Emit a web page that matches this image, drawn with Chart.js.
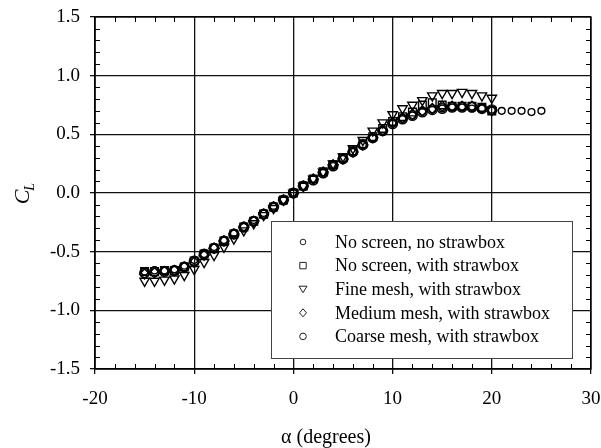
<!DOCTYPE html>
<html>
<head>
<meta charset="utf-8">
<script src="https://cdn.jsdelivr.net/npm/chart.js@4.4.1/dist/chart.umd.min.js"></script>
<style>
  html, body { margin: 0; padding: 0; background: #fff; }
  #wrap { width: 601px; height: 448px; }
</style>
</head>
<body>
<div id="wrap"><canvas id="liftChart" width="601" height="448"></canvas></div>
<script>
// angle of attack, degrees
var alpha = [-15, -14, -13, -12, -11, -10, -9, -8, -7, -6, -5, -4, -3, -2, -1, 0,
  1, 2, 3, 4, 5, 6, 7, 8, 9, 10, 11, 12, 13, 14, 15, 16, 17, 18, 19, 20];
var alphaLong = [-15, -14, -13, -12, -11, -10, -9, -8, -7, -6, -5, -4, -3, -2, -1, 0,
  1, 2, 3, 4, 5, 6, 7, 8, 9, 10, 11, 12, 13, 14, 15, 16, 17, 18, 19, 20,
  21, 22, 23, 24, 25];

// lift coefficient per configuration
var clNoScreenNoBox = [-0.67, -0.66, -0.66, -0.65, -0.62, -0.57, -0.52, -0.46, -0.40, -0.34, -0.29, -0.23, -0.17, -0.11, -0.06, 0.00,
  0.06, 0.12, 0.17, 0.23, 0.29, 0.35, 0.41, 0.47, 0.53, 0.59, 0.63, 0.66, 0.69, 0.71, 0.72, 0.73, 0.73, 0.72, 0.72, 0.71,
  0.70, 0.70, 0.70, 0.69, 0.70];
var clNoScreenBox = [-0.67, -0.67, -0.66, -0.66, -0.63, -0.58, -0.52, -0.47, -0.41, -0.35, -0.29, -0.24, -0.18, -0.12, -0.06, 0.00,
  0.06, 0.12, 0.18, 0.24, 0.30, 0.36, 0.42, 0.48, 0.55, 0.61, 0.65, 0.69, 0.75, 0.77, 0.75, 0.74, 0.74, 0.74, 0.73, 0.70];
var clFineMesh = [-0.75, -0.75, -0.74, -0.73, -0.70, -0.65, -0.59, -0.53, -0.46, -0.39, -0.32, -0.26, -0.19, -0.13, -0.06, 0.00,
  0.06, 0.12, 0.18, 0.25, 0.31, 0.38, 0.45, 0.53, 0.60, 0.67, 0.72, 0.75, 0.79, 0.83, 0.85, 0.85, 0.86, 0.85, 0.83, 0.81];
var clMediumMesh = [-0.69, -0.68, -0.67, -0.66, -0.63, -0.59, -0.53, -0.47, -0.41, -0.35, -0.29, -0.24, -0.18, -0.12, -0.06, 0.00,
  0.06, 0.12, 0.18, 0.24, 0.29, 0.35, 0.41, 0.47, 0.53, 0.60, 0.64, 0.67, 0.70, 0.72, 0.74, 0.74, 0.74, 0.74, 0.72, 0.70];
var clCoarseMesh = [-0.68, -0.67, -0.67, -0.66, -0.63, -0.58, -0.52, -0.47, -0.41, -0.35, -0.29, -0.24, -0.18, -0.12, -0.06, 0.00,
  0.06, 0.11, 0.17, 0.23, 0.29, 0.35, 0.41, 0.47, 0.53, 0.59, 0.63, 0.66, 0.69, 0.71, 0.72, 0.73, 0.73, 0.73, 0.72, 0.71];

var seriesLabels = [
  "No screen, no strawbox",
  "No screen, with strawbox",
  "Fine mesh, with strawbox",
  "Medium mesh, with strawbox",
  "Coarse mesh, with strawbox"
];

var xTicks = [-20, -10, 0, 10, 20, 30];
var yTicks = [-1.5, -1.0, -0.5, 0.0, 0.5, 1.0, 1.5];
var xMinorStep = 2;
var yMinorStep = 0.1;

var SERIF = "'Liberation Serif', 'DejaVu Serif', serif";

function toPoints(xs, ys) {
  return ys.map(function (y, i) { return { x: xs[i], y: y }; });
}

// small hollow markers for the legend, drawn by hand
function legendMarker(ctx, kind, x, y) {
  ctx.beginPath();
  if (kind === "smallCircle") {
    ctx.arc(x, y, 2.8, 0, Math.PI * 2);
  } else if (kind === "square") {
    ctx.rect(x - 3.2, y - 3.2, 6.4, 6.4);
  } else if (kind === "triDown") {
    ctx.moveTo(x - 4, y - 3);
    ctx.lineTo(x + 4, y - 3);
    ctx.lineTo(x, y + 3.5);
    ctx.closePath();
  } else if (kind === "diamond") {
    ctx.moveTo(x, y - 4);
    ctx.lineTo(x + 3.5, y);
    ctx.lineTo(x, y + 4);
    ctx.lineTo(x - 3.5, y);
    ctx.closePath();
  } else {
    ctx.arc(x, y, 3.3, 0, Math.PI * 2);
  }
  ctx.stroke();
}

var markerKinds = ["smallCircle", "square", "triDown", "diamond", "circle"];

var framePlugin = {
  id: "frame",
  afterDatasetsDraw: function (chart) {
    var ctx = chart.ctx;
    var area = chart.chartArea;
    var xs = chart.scales.x;
    var ys = chart.scales.y;
    ctx.save();
    ctx.strokeStyle = "#000";
    ctx.lineWidth = 1.3;
    ctx.strokeRect(area.left, area.top, area.right - area.left, area.bottom - area.top);

    // minor ticks, pointing inwards on all four sides
    ctx.lineWidth = 1;
    ctx.beginPath();
    var v, p;
    for (v = xs.min; v <= xs.max + 1e-9; v += xMinorStep) {
      if (Math.abs(v % 10) < 1e-9) continue;
      p = Math.round(xs.getPixelForValue(v)) + 0.5;
      ctx.moveTo(p, area.bottom); ctx.lineTo(p, area.bottom - 5);
      ctx.moveTo(p, area.top); ctx.lineTo(p, area.top + 5);
    }
    for (v = ys.min; v <= ys.max + 1e-9; v += yMinorStep) {
      var r = Math.round(v * 10);
      if (r % 5 === 0) continue;
      p = Math.round(ys.getPixelForValue(r / 10)) + 0.5;
      ctx.moveTo(area.left, p); ctx.lineTo(area.left + 5, p);
      ctx.moveTo(area.right, p); ctx.lineTo(area.right - 5, p);
    }
    ctx.stroke();

    // legend box inside the plot
    var bx = 271, by = 221, bw = 301, bh = 137;
    ctx.fillStyle = "#fff";
    ctx.fillRect(bx, by, bw, bh);
    ctx.strokeStyle = "#444";
    ctx.lineWidth = 1;
    ctx.strokeRect(bx + 0.5, by + 0.5, bw, bh);
    ctx.font = "18px " + SERIF;
    ctx.textBaseline = "middle";
    ctx.textAlign = "left";
    ctx.fillStyle = "#000";
    seriesLabels.forEach(function (label, i) {
      var ly = by + 21 + i * 23.6;
      ctx.strokeStyle = "#222";
      ctx.lineWidth = 1;
      legendMarker(ctx, markerKinds[i], 303, ly);
      ctx.fillText(label, 335, ly + 1);
    });

    // axis titles
    ctx.textAlign = "center";
    ctx.font = "20px " + SERIF;
    ctx.fillText("\u03b1 (degrees)", 326, 438);

    ctx.translate(23, 193);
    ctx.rotate(-Math.PI / 2);
    ctx.textAlign = "left";
    ctx.textBaseline = "alphabetic";
    ctx.font = "italic 22px " + SERIF;
    var cw = ctx.measureText("C").width;
    ctx.fillText("C", -(cw + 8) / 2, 6);
    ctx.font = "italic 14px " + SERIF;
    ctx.fillText("L", -(cw + 8) / 2 + cw - 1, 11);
    ctx.restore();
  }
};

function pointSet(label, data, style, radius, rotation) {
  return {
    label: label,
    data: data,
    showLine: false,
    pointStyle: style,
    pointRadius: radius,
    pointHoverRadius: radius,
    pointRotation: rotation || 0,
    pointBorderWidth: 1.4,
    borderColor: "#000",
    backgroundColor: "rgba(0,0,0,0)"
  };
}

var ctx = document.getElementById("liftChart").getContext("2d");
var liftChart = new Chart(ctx, {
  type: "scatter",
  data: {
    datasets: [
      pointSet(seriesLabels[0], toPoints(alphaLong, clNoScreenNoBox), "circle", 3.4),
      pointSet(seriesLabels[1], toPoints(alpha, clNoScreenBox), "rect", 5.4),
      pointSet(seriesLabels[2], toPoints(alpha, clFineMesh), "triangle", 5.4, 180),
      pointSet(seriesLabels[3], toPoints(alpha, clMediumMesh), "rectRot", 5),
      pointSet(seriesLabels[4], toPoints(alpha, clCoarseMesh), "circle", 4.8)
    ]
  },
  options: {
    responsive: false,
    animation: false,
    devicePixelRatio: 1,
    layout: { padding: { left: 0, right: 10, top: 17, bottom: 0 } },
    plugins: {
      legend: { display: false },
      tooltip: { enabled: false }
    },
    scales: {
      x: {
        type: "linear",
        min: -20,
        max: 30,
        afterBuildTicks: function (axis) {
          axis.ticks = xTicks.map(function (v) { return { value: v }; });
        },
        afterFit: function (axis) {
          axis.height = 79;
          axis.paddingLeft = 0;
          axis.paddingRight = 0;
        },
        grid: { color: "#111", lineWidth: 1.3, tickLength: 5, tickColor: "#111" },
        border: { color: "#000", width: 1.3 },
        ticks: {
          color: "#000",
          padding: 14,
          maxRotation: 0,
          font: { family: SERIF, size: 19 },
          callback: function (v) { return String(v); }
        }
      },
      y: {
        type: "linear",
        min: -1.5,
        max: 1.5,
        afterBuildTicks: function (axis) {
          axis.ticks = yTicks.map(function (v) { return { value: v }; });
        },
        afterFit: function (axis) {
          axis.width = 95;
          axis.paddingTop = 0;
          axis.paddingBottom = 0;
        },
        grid: { color: "#111", lineWidth: 1.3, tickLength: 5, tickColor: "#111" },
        border: { color: "#000", width: 1.3 },
        ticks: {
          color: "#000",
          padding: 10,
          font: { family: SERIF, size: 19 },
          callback: function (v) { return Number(v).toFixed(1); }
        }
      }
    }
  },
  plugins: [framePlugin]
});
</script>
</body>
</html>
